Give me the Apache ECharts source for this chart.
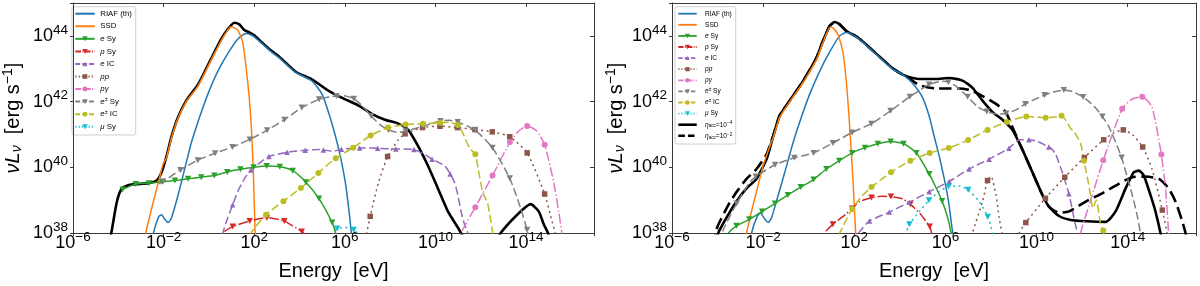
<!DOCTYPE html>
<html>
<head>
<meta charset="utf-8">
<title>SED</title>
<script src="https://cdn.jsdelivr.net/npm/echarts@6.0.0/dist/echarts.min.js"></script>
<style>
html,body{margin:0;padding:0;background:#fff;}
#chart{width:1200px;height:286px;}
</style>
</head>
<body>
<div id="chart"></div>
<script>
// ---------- tick labels (log10 exponents) ----------
const xTickExps = [-6, -2, 2, 6, 10, 14];
const yTickExps = [38, 40, 42, 44];

// ---------- legend labels ----------
const legendText = {
  riaf: 'RIAF (th)', ssd: 'SSD', eSy: '{i|e} Sy', pSy: '{i|p} Sy', eIC: '{i|e} IC',
  pp: '{i|pp}', pg: '{i|pγ}', pairSy: '{i|e}{sup|±} Sy', pairIC: '{i|e}{sup|±} IC',
  muSy: '{i|μ} Sy', total: '{i|η}{sub|acc}{n|=10}{sup|−4}', total2: '{i|η}{sub|acc}{n|=10}{sup|−2}'
};
const legendKeysL = ['riaf','ssd','eSy','pSy','eIC','pp','pg','pairSy','pairIC','muSy'];
const legendKeysR = ['riaf','ssd','eSy','pSy','eIC','pp','pg','pairSy','pairIC','muSy','total','total2'];

// ---------- LEFT PANEL data: [log10 E(eV), log10 nuL_nu] ----------
const totalL = [[-4.6,37.0],[-4.31,38.0],[-4.06,38.96],[-3.84,39.36],[-3.48,39.47],[-2.67,39.52],[-2.31,39.6],[-2.09,39.85],[-1.87,40.34],[-1.65,40.94],[-1.36,41.53],[-1.0,42.03],[-0.48,42.52],[0.1,43.31],[0.54,43.9],[0.83,44.2],[1.12,44.4],[1.34,44.35],[1.56,44.18],[1.8,44.1],[2.0,44.02],[2.29,43.83],[2.73,43.56],[3.11,43.36],[3.83,42.91],[4.56,42.67],[5.3,42.32],[6.02,42.07],[6.61,41.88],[7.19,41.63],[7.77,41.45],[8.36,41.33],[8.8,41.14],[9.24,40.64],[9.67,40.05],[10.11,39.36],[10.55,38.66],[10.99,38.17],[11.4,37.7],[12.0,37.3],[12.5,37.5],[12.88,38.0],[13.61,38.56],[14.2,38.88],[14.56,38.66],[14.78,38.27],[14.97,38.0],[15.2,37.4]];
const riafL = [[-2.6,37.3],[-2.45,38.0],[-2.21,38.51],[-2.09,38.56],[-1.95,38.42],[-1.8,38.32],[-1.65,38.47],[-1.36,39.16],[-1.07,39.95],[-0.78,40.74],[-0.41,41.53],[-0.05,42.22],[0.39,42.92],[0.83,43.46],[1.27,43.9],[1.63,44.07],[1.9,44.02],[2.2,43.86],[2.73,43.53],[3.11,43.33],[3.83,42.89],[4.56,42.62],[5.0,42.22],[5.3,41.63],[5.59,40.94],[5.8,40.34],[6.02,39.55],[6.17,38.76],[6.29,38.0],[6.4,37.3]];
const ssdL = [[-2.95,37.3],[-2.79,38.0],[-2.45,38.96],[-2.23,39.55],[-2.02,40.1],[-1.87,40.3],[-1.65,40.9],[-1.36,41.5],[-1.0,42.0],[-0.48,42.48],[0.1,43.27],[0.54,43.85],[0.97,44.28],[1.27,44.18],[1.49,43.81],[1.63,43.11],[1.78,42.12],[1.88,41.14],[1.97,39.65],[2.04,38.0],[2.08,37.3]];
const eSyL = [[5.59,38.0],[5.7,37.5]];
const eSyMarksL = [[-3.81,39.33],[-3.23,39.49],[-2.65,39.52],[-2.07,39.56],[-1.5,39.6],[-0.92,39.65],[-0.34,39.7],[0.24,39.75],[0.81,39.86],[1.39,39.94],[1.97,40.0],[2.55,40.04],[3.13,40.02],[3.7,39.9],[4.28,39.55],[4.86,39.05],[5.44,38.32]];
const pSyL = [[0.45,37.6],[0.61,38.0],[2.43,38.46],[3.69,38.22],[4.3,37.9],[4.4,37.6]];
const pSyMarksL = [[1.05,38.2],[1.8,38.37],[2.56,38.47],[3.33,38.37],[4.1,38.05]];
const eICL = [[0.45,37.6],[0.61,38.0],[0.83,38.47],[1.27,39.26],[1.56,39.65],[2.36,40.2],[4.86,40.54],[5.51,40.49],[7.19,40.59],[9.53,40.39],[10.4,40.05],[10.84,39.55],[10.99,39.16],[11.13,38.66],[11.28,38.27],[11.43,38.0],[11.6,37.5]];
const eICMarksL = [[1.05,38.86],[1.85,39.92],[2.65,40.33],[3.45,40.46],[4.25,40.52],[5.05,40.53],[5.85,40.55],[6.65,40.59],[7.45,40.58],[8.25,40.56],[9.05,40.54],[9.85,40.25],[10.65,39.8]];
const ppL = [[6.85,37.3],[6.97,38.0],[7.49,39.55],[8.36,40.84],[15.15,38.35],[15.29,38.0],[15.4,37.5]];
const ppMarksL = [[7.12,38.51],[7.89,40.33],[8.66,41.02],[9.43,41.21],[10.2,41.25],[10.97,41.21],[11.74,41.15],[12.51,41.08],[13.28,40.93],[14.05,40.44],[14.82,39.19]];
const pgL = [[11.0,37.6],[11.13,38.0],[13.7,41.12],[14.45,41.12],[15.22,39.55],[15.44,38.66],[15.58,38.0],[15.65,37.5]];
const pgMarksL = [[11.76,38.79],[12.52,39.75],[13.29,40.77],[14.05,41.26],[14.82,40.69]];
const pairSyL = [[-2.2,39.5],[5.3,42.14],[5.95,42.18],[6.8,41.85],[7.55,41.3],[8.36,41.06],[10.6,41.43],[13.76,38.76],[14.2,37.6]];
const pairSyMarksL = [[-2.02,39.57],[-1.255,39.92],[-0.49,40.22],[0.275,40.43],[1.04,40.62],[1.805,40.85],[2.57,41.13],[3.335,41.45],[4.1,41.82],[4.865,42.07],[5.63,42.17],[6.395,42.09],[7.16,41.56],[7.925,41.14],[8.69,41.1],[9.455,41.25],[10.22,41.41],[10.985,41.38],[11.75,41.13],[12.515,40.6],[13.28,39.67],[14.045,38.1]];
const pairICL = [[1.6,37.6],[1.85,38.0],[10.6,41.37],[11.21,41.04],[11.5,40.59],[11.89,39.95],[12.08,39.26],[12.3,38.91],[12.4,38.56],[12.53,38.0],[12.6,37.6]];
const pairICMarksL = [[2.52,38.56],[3.29,38.97],[4.06,39.37],[4.83,39.83],[5.6,40.28],[6.37,40.6],[7.14,40.97],[7.91,41.21],[8.68,41.3],[9.45,41.33],[10.22,41.36],[10.99,41.29],[11.76,40.4]];
const muSyL = [[5.4,37.6],[5.51,38.0],[6.02,38.17],[6.54,38.0],[6.65,37.6]];
const muSyMarksL = [[5.66,38.14],[6.39,38.1]];

// ---------- RIGHT PANEL data ----------
const totalR = [[-4.2,37.4],[-3.97,38.0],[-3.53,38.56],[-3.17,38.96],[-2.73,39.36],[-2.29,39.65],[-1.85,40.25],[-1.56,40.94],[-1.27,41.58],[-0.83,42.03],[-0.25,42.62],[0.34,43.33],[0.6,43.8],[0.92,44.3],[1.14,44.42],[1.36,44.35],[1.65,44.15],[2.09,43.98],[2.38,43.82],[2.96,43.46],[3.69,43.01],[4.28,42.77],[4.86,42.69],[5.59,42.69],[6.17,42.72],[6.75,42.64],[7.19,42.42],[7.63,42.03],[8.07,41.68],[8.51,41.45],[8.94,41.14],[9.38,40.54],[9.82,39.85],[10.26,39.16],[10.55,38.8],[10.99,38.52],[11.5,38.4],[12.2,38.36],[13.03,38.34],[13.47,38.66],[13.91,39.36],[14.27,39.85],[14.49,39.9],[14.71,39.75],[15.0,39.16],[15.22,38.66],[15.44,38.0],[15.55,37.5]];
const totalR2 = [[-4.2,37.6],[-4.0,38.2],[-3.53,38.85],[-3.17,39.25],[-2.73,39.65],[-2.29,39.95],[-1.85,40.4],[-1.56,40.96],[-1.27,41.58],[-0.83,42.03],[-0.25,42.62],[0.34,43.33],[0.6,43.8],[0.92,44.3],[1.14,44.42],[1.36,44.35],[1.65,44.15],[2.09,43.98],[2.38,43.82],[2.96,43.46],[3.69,43.01],[4.42,42.7],[4.86,42.5],[5.59,42.4],[6.61,42.4],[7.12,42.34],[7.63,42.17],[8.22,41.93],[8.65,41.68],[8.94,41.23],[9.38,40.54],[9.82,39.85],[10.26,39.16],[10.55,38.8],[11.0,38.62],[11.43,38.66],[12.16,38.96],[12.88,39.21],[13.61,39.5],[14.2,39.7],[14.78,39.72],[15.37,39.65],[15.8,39.36],[16.1,38.96],[16.39,38.37],[16.54,38.0],[16.65,37.5]];
const riafR = [[-2.65,37.3],[-2.51,38.0],[-2.26,38.51],[-2.12,38.61],[-1.95,38.45],[-1.78,38.32],[-1.63,38.47],[-1.42,38.96],[-1.05,39.85],[-0.69,40.74],[-0.32,41.53],[0.04,42.22],[0.48,42.92],[0.92,43.51],[1.36,44.0],[1.65,44.1],[2.01,44.0],[2.38,43.8],[2.96,43.44],[3.69,42.99],[4.13,42.82],[4.57,42.55],[5.0,42.12],[5.3,41.53],[5.51,40.94],[5.73,40.34],[5.95,39.65],[6.14,38.96],[6.25,38.37],[6.32,38.0],[6.4,37.4]];
const ssdR = [[-2.9,37.3],[-2.73,38.0],[-2.51,38.66],[-2.29,39.26],[-2.0,40.05],[-1.78,40.5],[-1.56,40.9],[-1.27,41.53],[-0.83,42.0],[-0.25,42.58],[0.34,43.28],[0.6,43.75],[0.95,44.27],[1.1,44.22],[1.28,44.05],[1.5,43.51],[1.65,42.62],[1.79,41.33],[1.94,39.65],[2.06,38.0],[2.1,37.3]];
const eSyR = [[-3.7,37.7],[-3.53,38.0],[5.59,39.38],[6.1,38.47],[6.25,38.0],[6.35,37.5]];
const eSyMarksR = [[-3.17,38.22],[-2.606,38.42],[-2.042,38.66],[-1.478,38.9],[-0.914,39.16],[-0.35,39.4],[0.214,39.63],[0.778,39.95],[1.342,40.2],[1.906,40.44],[2.47,40.6],[3.034,40.72],[3.598,40.79],[4.162,40.72],[4.726,40.44],[5.29,39.8],[5.854,38.98]];
const pSyR = [[0.55,37.6],[0.7,38.0],[1.5,38.5],[2.23,38.96],[3.2,39.12],[4.13,39.04],[4.93,38.56],[5.4,38.0],[5.5,37.6]];
const pSyMarksR = [[1.06,38.27],[1.91,38.75],[2.76,39.08],[3.61,39.11],[4.46,38.88],[5.31,38.2]];
const eICR = [[1.9,37.7],[2.3,38.1],[9.24,40.84],[10.0,40.8],[10.69,40.54],[10.84,40.4],[11.13,39.85],[11.64,38.47],[11.79,38.0],[11.9,37.5]];
const eICMarksR = [[2.67,38.37],[3.54,38.64],[4.42,38.94],[5.29,39.26],[6.17,39.57],[7.04,39.95],[7.92,40.25],[8.79,40.58],[9.67,40.84],[10.54,40.62],[11.42,39.2]];
const ppR = [[7.0,37.4],[7.19,38.0],[7.63,38.96],[8.0,39.73],[8.22,39.16],[8.36,38.47],[8.48,38.0],[8.7,37.3],[9.0,37.3],[9.24,38.0],[13.4,41.05],[14.2,41.0],[15.07,39.95],[15.73,38.0],[15.8,37.5]];
const ppMarksR = [[7.85,39.6],[9.53,38.32],[10.39,39.06],[11.24,39.7],[12.1,40.3],[12.95,40.84],[13.81,41.14],[14.66,40.62],[15.52,38.7]];
const pgR = [[11.8,37.5],[11.93,38.0],[12.4,39.05],[14.2,42.08],[15.07,41.83],[15.66,39.36],[15.8,38.0],[15.85,37.5]];
const pgMarksR = [[12.93,40.22],[13.76,41.78],[14.64,42.15],[15.48,40.39]];
const pairSyR = [[-3.9,37.7],[-3.75,38.1],[-2.58,39.55],[5.88,42.62],[6.5,42.45],[7.4,41.85],[8.3,41.62],[9.1,41.75],[9.9,42.06],[10.8,42.3],[11.6,42.3],[12.5,41.88],[13.18,41.23],[13.45,40.8],[14.2,39.16],[14.4,38.6],[14.56,38.0],[14.65,37.5]];
const pairSyMarksR = [[-3.165,38.9],[-2.32,39.72],[-1.475,40.08],[-0.63,40.29],[0.215,40.44],[1.06,40.74],[1.905,41.06],[2.75,41.33],[3.595,41.72],[4.44,42.15],[5.285,42.52],[6.13,42.6],[6.975,42.15],[7.82,41.7],[8.665,41.64],[9.51,41.93],[10.355,42.2],[11.2,42.35],[12.045,42.14],[12.89,41.55],[13.735,40.3]];
const pairICR = [[1.2,37.6],[1.36,38.0],[2.3,39.1],[10.0,41.53],[10.8,41.53],[11.5,41.18],[11.64,41.09],[11.93,40.74],[12.3,39.45],[12.48,38.76],[12.62,39.01],[12.81,38.27],[13.05,37.6]];
const pairICMarksR = [[1.91,38.73],[2.76,39.4],[3.61,39.85],[4.46,40.2],[5.31,40.44],[6.15,40.59],[7.0,40.83],[7.85,41.14],[8.7,41.38],[9.55,41.55],[10.4,41.51],[11.1,41.57],[12.08,40.2],[12.93,38.08]];
const muSyR = [[4.15,37.6],[4.28,38.0],[4.86,38.66],[5.7,39.25],[6.61,39.43],[7.48,38.96],[8.07,38.0],[8.15,37.6]];
const muSyMarksR = [[4.42,38.27],[5.28,39.0],[6.14,39.42],[7.0,39.32],[7.86,38.5]];

// ---------- styles ----------
const FONT = '"Liberation Sans", Arial, sans-serif';
const AX = '#3a3a3a';
const STY = {
  total:  {color:'#000000', lw:2.6, dash:'solid'},
  total2: {color:'#000000', lw:2.6, dash:[12,5.5]},
  riaf:   {color:'#1f77b4', lw:1.5, dash:'solid'},
  ssd:    {color:'#ff7f0e', lw:1.5, dash:'solid'},
  eSy:    {color:'#2ca02c', lw:1.5, dash:'solid', sym:'triDown'},
  pSy:    {color:'#d62728', lw:1.5, dash:[9.6,2.4,1.5,2.4], sym:'triDown'},
  eIC:    {color:'#9467bd', lw:1.5, dash:[8,3.5], sym:'triUp'},
  pp:     {color:'#8c564b', lw:1.5, dash:[2,3.5], sym:'square'},
  pg:     {color:'#e377c2', lw:1.5, dash:[9.6,2.4,1.5,2.4], sym:'circle'},
  pairSy: {color:'#7f7f7f', lw:1.5, dash:[8,3.5], sym:'triDown'},
  pairIC: {color:'#bcbd22', lw:1.5, dash:[8,3.5], sym:'circle'},
  muSy:   {color:'#17becf', lw:1.5, dash:[2,3.5], sym:'triDown'}
};
const SYM = {
  triDown: {symbol:'triangle', rot:180, size:[6.5,6]},
  triUp:   {symbol:'triangle', rot:0, size:[5.5,5.5]},
  square:  {symbol:'rect', rot:0, size:[5.5,5.5]},
  circle:  {symbol:'circle', rot:0, size:[6,6]}
};

function merge(curve, marks) {
  if (!marks) return curve.slice();
  const pts = curve.filter(p => !marks.some(m => Math.abs(m[0]-p[0]) < 0.05)).concat(marks);
  pts.sort((a,b) => a[0]-b[0]);
  return pts;
}

const panels = [
  [['total',totalL,null],['riaf',riafL,null],['ssd',ssdL,null],['eSy',eSyL,eSyMarksL],['pSy',pSyL,pSyMarksL],['eIC',eICL,eICMarksL],['pp',ppL,ppMarksL],['pg',pgL,pgMarksL],['pairSy',pairSyL,pairSyMarksL],['pairIC',pairICL,pairICMarksL],['muSy',muSyL,muSyMarksL]],
  [['total',totalR,null],['total2',totalR2,null],['riaf',riafR,null],['ssd',ssdR,null],['eSy',eSyR,eSyMarksR],['pSy',pSyR,pSyMarksR],['eIC',eICR,eICMarksR],['pp',ppR,ppMarksR],['pg',pgR,pgMarksR],['pairSy',pairSyR,pairSyMarksR],['pairIC',pairICR,pairICMarksR],['muSy',muSyR,muSyMarksR]]
];

const series = [];
panels.forEach((items, gi) => {
  items.forEach(([key, curve, marks]) => {
    const st = STY[key];
    const isBlack = key === 'total' || key === 'total2';
    series.push({
      type:'line', name:key + gi, xAxisIndex:gi*2, yAxisIndex:gi*2,
      data: merge(curve, marks), smooth:0.2,
      symbol:'none', clip:true, silent:true, z: isBlack ? 2 : 3,
      lineStyle:{color:st.color, width:st.lw, type:st.dash, cap:'butt', join:'round'}
    });
    if (marks && st.sym) {
      const s = SYM[st.sym];
      series.push({
        type:'scatter', name:key + gi + 'm', xAxisIndex:gi*2, yAxisIndex:gi*2,
        data: marks, symbol:s.symbol, symbolRotate:s.rot, symbolSize:s.size,
        itemStyle:{color:st.color, opacity:1}, clip:true, silent:true, z:4
      });
    }
  });
});

// ---------- axes ----------
const tickRich = {
  b: {fontSize:18, lineHeight:18, fontFamily:FONT, color:'#000'},
  s: {fontSize:13.5, lineHeight:14, padding:[0,0,12,0], fontFamily:FONT, color:'#000'}
};
function fmtExp(v){ return '{b|10}{s|' + (v < 0 ? '\u2212' + (-v) : v) + '}'; }
function xFmt(v){ return xTickExps.includes(Math.round(v*1000)/1000) ? fmtExp(v) : ''; }
function yFmt(v){ return yTickExps.includes(Math.round(v*1000)/1000) ? fmtExp(v) : ''; }

function xAx(gi, pos) {
  const bottom = pos === 'bottom';
  return {
    type:'value', gridIndex:gi, position:pos, min:-6, max:17, interval:4,
    axisLine:{show:true, onZero:false, lineStyle:{color:AX, width:1}},
    axisTick:{show:true, inside:!bottom, length:bottom ? 3 : 4, lineStyle:{color:AX, width:1}},
    axisLabel:{show:bottom, margin:1, formatter:xFmt, rich:tickRich},
    splitLine:{show:false},
    name: bottom ? 'Energy  [eV]' : '',
    nameLocation:'middle', nameGap:23,
    nameTextStyle:{fontSize:20, fontFamily:FONT, color:'#000'}
  };
}
const yNameRich = {
  i:{fontSize:20, fontStyle:'italic', fontFamily:FONT, color:'#000'},
  sub:{fontSize:14, fontStyle:'italic', padding:[8,0,0,0], fontFamily:FONT, color:'#000'},
  n:{fontSize:20, fontFamily:FONT, color:'#000'},
  sup:{fontSize:14, padding:[0,0,10,0], fontFamily:FONT, color:'#000'}
};
function yAx(gi, pos, gap) {
  const left = pos === 'left';
  return {
    type:'value', gridIndex:gi, position:pos, min:38, max:45, interval:2,
    axisLine:{show:true, onZero:false, lineStyle:{color:AX, width:1}},
    axisTick:{show:true, inside:!left, length:left ? 3 : 4, lineStyle:{color:AX, width:1}},
    axisLabel:{show:left, margin:5, formatter:yFmt, rich:tickRich},
    splitLine:{show:false},
    name: left ? '{i|\u03BDL}{sub|\u03BD}{n|  [erg s}{sup|\u22121}{n|]}' : '',
    nameLocation:'middle', nameRotate:90, nameGap:gap || 40,
    nameTextStyle:{fontSize:20, fontFamily:FONT, color:'#000', rich:yNameRich}
  };
}

// ---------- legends (graphic) ----------
function markerShape(sym, cx, cy, s, color) {
  if (sym === 'triDown') return {type:'polygon', shape:{points:[[cx-s/2,cy-s*0.45],[cx+s/2,cy-s*0.45],[cx,cy+s*0.45]]}, style:{fill:color}};
  if (sym === 'triUp') return {type:'polygon', shape:{points:[[cx-s*0.42,cy+s*0.4],[cx+s*0.42,cy+s*0.4],[cx,cy-s*0.4]]}, style:{fill:color}};
  if (sym === 'square') return {type:'rect', shape:{x:cx-s*0.42,y:cy-s*0.42,width:s*0.84,height:s*0.84}, style:{fill:color}};
  return {type:'circle', shape:{cx:cx, cy:cy, r:s*0.45}, style:{fill:color}};
}
function legendGroup(cfg, keys) {
  const fs = cfg.fs;
  const rich = {
    i:{fontStyle:'italic', fontSize:fs, fontFamily:FONT, fill:'#000', color:'#000'},
    n:{fontSize:fs, fontFamily:FONT, fill:'#000', color:'#000'},
    sup:{fontSize:fs*0.7, padding:[0,0,fs*0.45,0], fontFamily:FONT, fill:'#000', color:'#000'},
    sub:{fontSize:fs*0.7, padding:[fs*0.45,0,0,0], fontFamily:FONT, fill:'#000', color:'#000'}
  };
  const children = [{type:'rect', shape:{x:cfg.x, y:cfg.y, width:cfg.w, height:cfg.h, r:2},
    style:{fill:'rgba(255,255,255,0.85)', stroke:'#d0d0d0', lineWidth:1}}];
  keys.forEach((k, i) => {
    const y = cfg.y0 + i*cfg.dy;
    const st = STY[k];
    const lw = (k === 'total' || k === 'total2') ? cfg.blw : cfg.lw;
    const dash = st.dash === 'solid' ? null : st.dash.map(d => d * cfg.dscale);
    children.push({type:'line', shape:{x1:cfg.lx1, y1:y, x2:cfg.lx2, y2:y},
      style:{stroke:st.color, lineWidth:lw, lineDash:dash}});
    if (st.sym) children.push(markerShape(st.sym, (cfg.lx1+cfg.lx2)/2, y, cfg.ms, st.color));
    children.push({type:'text', x:cfg.tx, y:y,
      style:{text:legendText[k], rich:rich, fontSize:fs, fontFamily:FONT, fill:'#000',
        textAlign:'left', align:'left', textVerticalAlign:'middle', verticalAlign:'middle'}});
  });
  return {type:'group', z:100, children:children};
}
const legendL = legendGroup({x:72, y:6.7, w:63.7, h:128.3, lx1:75.3, lx2:94.7, tx:100.3, y0:13.7, dy:12.56, fs:7.8, lw:2, blw:2.6, ms:5.5, dscale:0.6}, legendKeysL);
const legendR = legendGroup({x:675, y:6.7, w:60.7, h:137.3, lx1:678.3, lx2:696.7, tx:705, y0:13.7, dy:11.1, fs:6.6, lw:1.8, blw:2.6, ms:5, dscale:0.55}, legendKeysR);

const option = {
  animation:false,
  backgroundColor:'#ffffff',
  grid:[{left:69, top:3, width:525, height:236}, {left:672, top:3, width:524, height:236}],
  xAxis:[xAx(0,'bottom'), xAx(0,'top'), xAx(1,'bottom'), xAx(1,'top')],
  yAxis:[yAx(0,'left',48), yAx(0,'right'), yAx(1,'left',44), yAx(1,'right')],
  series:series,
  graphic:[legendL, legendR]
};

const chart = echarts.init(document.getElementById('chart'), null, {renderer:'canvas'});
chart.setOption(option);
</script>
</body>
</html>
